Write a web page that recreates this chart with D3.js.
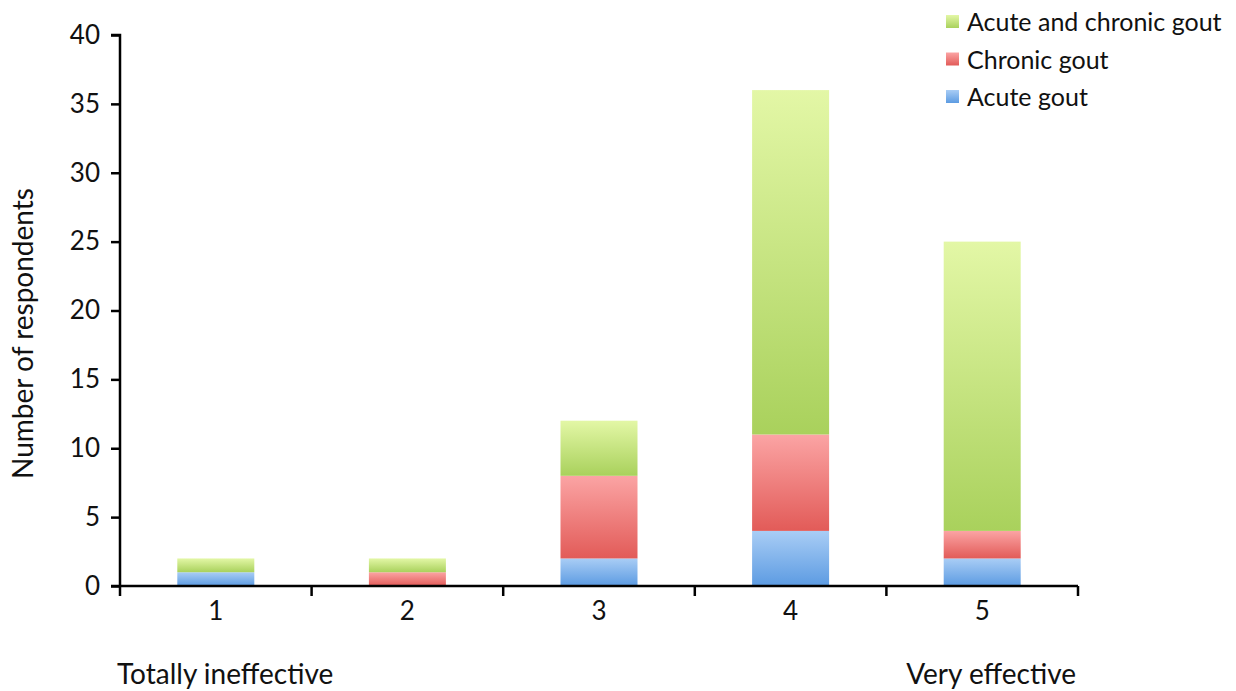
<!DOCTYPE html>
<html>
<head>
<meta charset="utf-8">
<script src="https://cdn.jsdelivr.net/npm/d3@7"></script>
<style>
body { margin: 0; background: #fff; }
text { font-family: Lato, "Open Sans", sans-serif; fill: #111; }
</style>
</head>
<body>
<script>
// data
var categories = ["1", "2", "3", "4", "5"];
var acute = [1, 0, 2, 4, 2];
var chronic = [0, 1, 6, 7, 2];
var both = [1, 1, 4, 25, 21];
var seriesNames = ["Acute gout", "Chronic gout", "Acute and chronic gout"];
var yTicks = [0, 5, 10, 15, 20, 25, 30, 35, 40];

var W = 1236, H = 691;
var margin = {left: 120, top: 35, right: 158, bottom: 105};

var svg = d3.select("body").append("svg")
	.attr("width", W).attr("height", H);

//gradients for each series
var grads = [
	{id: "gBlue", top: "#a9cdf5", bot: "#5c9be2"},
	{id: "gRed", top: "#fba4a4", bot: "#e25b58"},
	{id: "gGreen", top: "#e3f7a6", bot: "#a9d15c"}
];
var defs = svg.append("defs");
grads.forEach(function(g){
	var lg = defs.append("linearGradient").attr("id", g.id)
		.attr("x1", 0).attr("y1", 0).attr("x2", 0).attr("y2", 1);
	lg.append("stop").attr("offset", "0%").attr("stop-color", g.top);
	lg.append("stop").attr("offset", "100%").attr("stop-color", g.bot);
});

var xOuter = d3.scaleBand().domain(categories)
	.range([margin.left, W - margin.right]);
var y = d3.scaleLinear().domain([0, 40]).range([H - margin.bottom, margin.top]);

// stacked bars
var rows = categories.map(function(c, i){
	return {cat: c, acute: acute[i], chronic: chronic[i], both: both[i]};
});
var stack = d3.stack().keys(["acute", "chronic", "both"])(rows);

svg.selectAll("g.layer").data(stack).enter().append("g")
	.attr("class", "layer")
	.each(function(layer, k){
		d3.select(this).selectAll("rect").data(layer).enter().append("rect")
			.attr("x", function(d){ return xOuter(d.data.cat) + (xOuter.bandwidth() - 77) / 2; })
			.attr("width", 77)
			.attr("y", function(d){ return y(d[1]); })
			.attr("height", function(d){ return y(d[0]) - y(d[1]); })
			.attr("fill", "url(#" + grads[k].id + ")");
	});

// y axis
var yAxis = svg.append("g")
	.attr("transform", "translate(" + margin.left + ",0)")
	.call(d3.axisLeft(y).tickValues(yTicks).tickSize(9).tickPadding(11));
yAxis.select(".domain").attr("stroke", "#000").attr("stroke-width", 2.5)
	.attr("d", "M" + (-9) + "," + y(40) + "H0V" + y(0));
yAxis.selectAll(".tick line").attr("stroke", "#000").attr("stroke-width", 2.5);
yAxis.selectAll(".tick text").style("font-size", "26px").style("font-family", "Lato, 'Open Sans', sans-serif").attr("fill", "#111");

// x axis with ticks between categories
var xLine = svg.append("g");
xLine.append("line")
	.attr("x1", margin.left - 9).attr("x2", W - margin.right)
	.attr("y1", y(0)).attr("y2", y(0))
	.attr("stroke", "#000").attr("stroke-width", 2.5);
var bounds = categories.map(function(c){ return xOuter(c); }).concat([W - margin.right]);
xLine.selectAll("line.tk").data(bounds).enter().append("line")
	.attr("class", "tk")
	.attr("x1", function(d){ return d; }).attr("x2", function(d){ return d; })
	.attr("y1", y(0)).attr("y2", y(0) + 10)
	.attr("stroke", "#000").attr("stroke-width", 2.5);

svg.selectAll("text.cat").data(categories).enter().append("text")
	.attr("class", "cat")
	.attr("x", function(c){ return xOuter(c) + xOuter.bandwidth() / 2; })
	.attr("y", y(0) + 34)
	.attr("text-anchor", "middle")
	.style("font-size", "26px")
	.text(function(c){ return c; });

svg.append("text").attr("x", margin.left - 3).attr("y", y(0) + 98)
	.style("font-size", "28px").text("Totally ineffective");
svg.append("text").attr("x", W - margin.right - 2).attr("y", y(0) + 98)
	.attr("text-anchor", "end")
	.style("font-size", "28px").text("Very effective");

// y label
svg.append("text")
	.attr("transform", "translate(33," + ((y(0) + y(40)) / 2 + 23) + ") rotate(-90)")
	.attr("text-anchor", "middle")
	.style("font-size", "28px")
	.text("Number of respondents");

// legend
var legendOrder = [2, 1, 0];
var leg = svg.selectAll("g.leg").data(legendOrder).enter().append("g")
	.attr("class", "leg")
	.attr("transform", function(d, i){ return "translate(946," + (15 + i * 37.5) + ")"; });
leg.append("rect").attr("width", 13).attr("height", 13)
	.attr("fill", function(d){ return "url(#" + grads[d].id + ")"; });
leg.append("text").attr("x", 21).attr("y", 16)
	.style("font-size", "25px")
	.text(function(d){ return seriesNames[d]; });
</script>
</body>
</html>
